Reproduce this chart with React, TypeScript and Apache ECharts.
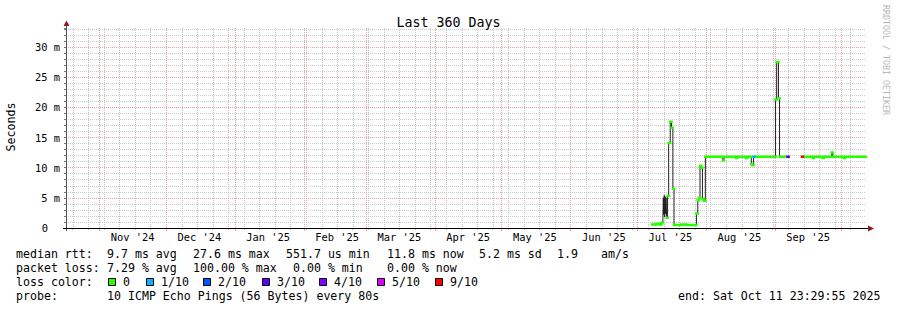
import React, { useEffect, useRef } from 'react';
import * as echarts from 'echarts';

// x values are days since 2024-10-17 00:00 (graph start); the graph spans 360 days
const monthStartDays = [15, 45, 76, 107, 135, 166, 196, 227, 257, 288, 319, 349];
const monthLabelDays = [30, 60, 91, 122, 150, 181, 211, 242, 272, 303, 334];
const monthLabels = ["Nov '24", "Dec '24", "Jan '25", "Feb '25", "Mar '25", "Apr '25", "May '25", "Jun '25", "Jul '25", "Aug '25", "Sep '25"];
const firstWeekDay = 3; // 2024-10-20

const yTickValues = [0, 5, 10, 15, 20, 25, 30];
const yTickLabels = ['0', '5 m', '10 m', '15 m', '20 m', '25 m', '30 m'];

// median rtt (ms), each value holds from its day until the next sample day
const sampleDays = [
  263.7, 265.5, 266.9, 268.0, 268.6, 268.8, 269.0, 269.2, 269.4, 269.6, 269.8, 270.0, 270.3, 270.7,
  271.2, 271.9, 272.5, 273.1, 273.6, 276.7, 279.0, 283.7, 284.3, 284.8, 285.3, 285.9, 286.4, 287.0,
  287.7, 295.6, 296.1, 301.4, 302.0, 306.0, 306.5, 308.4, 308.9, 309.4, 309.9, 319.3, 319.8, 320.6,
  321.1, 324.7, 325.2, 331.2, 331.6, 336.0, 336.5, 340.5, 341.0, 344.6, 345.1, 350.0, 350.5, 359.9,
];
const medianMs: (number | null)[] = [
  0.6, 0.7, 0.6, 0.9, 1.6, 5.0, 2.2, 5.4, 1.8, 5.2, 2.4, 5.0, 1.7, 5.3,
  14.1, 17.6, 16.6, 6.5, 0.5, 0.6, 0.5, 2.4, 4.6, 5.0, 10.3, 10.0, 4.8, 4.5,
  11.8, 11.2, 11.8, 11.6, 11.8, 11.6, 11.8, 10.6, 10.4, 11.8, 11.8, 21.3, 27.5, 21.5,
  11.8, 11.8, null, 11.8, 11.8, 11.6, 11.8, 11.6, 11.8, 12.5, 11.8, 11.6, 11.8, 11.8,
];
const lossTenths = [
  0, 0, 0, 0, 0, 0, 0, 1, 0, 0, 0, 0, 0, 0,
  0, 0, 0, 0, 0, 0, 0, 0, 0, 0, 0, 0, 0, 0,
  0, 0, 0, 0, 0, 0, 0, 0, 0, 1, 0, 0, 0, 0,
  0, 3, 0, 9, 0, 0, 0, 0, 0, 0, 0, 0, 0, 0,
];

const lossLevels = [0, 1, 2, 3, 4, 5, 9];
const lossLabels = ['0', '1/10', '2/10', '3/10', '4/10', '5/10', '9/10'];
const lossColors = ['#26ff00', '#00b8ff', '#0059ff', '#5e00ff', '#7e00ff', '#dd00ff', '#ff0000'];

const rttStats = ['9.7 ms avg', '27.6 ms max', '551.7 us min', '11.8 ms now', '5.2 ms sd', '1.9', 'am/s'];
const lossStats = ['7.29 % avg', '100.00 % max', '0.00 % min', '0.00 % now'];
const probeText = '10 ICMP Echo Pings (56 Bytes) every 80s';
const endText = 'end: Sat Oct 11 23:29:55 2025';
const titleText = 'Last 360 Days';

const MONO = '"DejaVu Sans Mono", monospace';

export default function App() {
  const ref = useRef<HTMLDivElement>(null);
  useEffect(() => {
    if (!ref.current) return;
    document.body.style.margin = '0';
    document.body.style.background = '#ffffff';
    const chart = echarts.init(ref.current, null, { renderer: 'svg' });

    const weekDays: number[] = [];
    for (let d = firstWeekDay; d < 360; d += 7) weekDays.push(d);

    const medianData = sampleDays.map((d, i) => [d, medianMs[i] == null ? '-' : medianMs[i]]);

    const lossSeries = lossLevels.map((lvl, k) => {
      const pts: any[] = [];
      for (let i = 0; i < sampleDays.length - 1; i++) {
        const v = medianMs[i];
        if (v == null || lossTenths[i] !== lvl) continue;
        pts.push([sampleDays[i], v], [sampleDays[i + 1], v], [sampleDays[i + 1], '-']);
      }
      return {
        type: 'line', name: 'loss' + lvl, data: pts, xAxisIndex: 0, yAxisIndex: 0,
        showSymbol: false, symbol: 'none', silent: true, z: 4,
        lineStyle: { color: lossColors[k], width: 2.5, cap: 'square' },
        connectNulls: false,
      };
    }).filter((s) => s.data.length > 0);

    const gray = '#cccccc';
    const vgray = '#c4c4c4';
    const red = '#eea0a0';

    const txt = (x: number, y: number, s: string) => ({
      type: 'text', x, y, silent: true, z: 10,
      style: { text: s, fontFamily: MONO, fontSize: 11.6, fill: '#000', align: 'left', verticalAlign: 'middle' },
    });

    const rttX = [107, 193, 286, 387, 479, 557, 601];
    const lossX = [107, 193, 293, 387];
    const boxX = [108, 146, 203, 262, 319, 377, 435];

    const graphics: any[] = [
      txt(16, 254, 'median rtt:'),
      ...rttStats.map((s, i) => txt(rttX[i], 254, s)),
      txt(16, 268, 'packet loss:'),
      ...lossStats.map((s, i) => txt(lossX[i], 268, s)),
      txt(16, 282, 'loss color:'),
      ...lossLabels.flatMap((s, i) => [
        { type: 'rect', silent: true, z: 10, shape: { x: boxX[i] + 0.5, y: 278.5, width: 7, height: 7 }, style: { fill: lossColors[i], stroke: '#000', lineWidth: 1 } },
        txt(boxX[i] + 15, 282, s),
      ]),
      txt(16, 296, 'probe:'),
      txt(107, 296, probeText),
      txt(678, 296, endText),
      {
        type: 'text', x: 11, y: 127, rotation: Math.PI / 2, silent: true, z: 10,
        style: { text: 'Seconds', fontFamily: MONO, fontSize: 11.6, fill: '#000', align: 'center', verticalAlign: 'middle' },
      },
      {
        type: 'text', x: 886, y: 5, rotation: -Math.PI / 2, silent: true, z: 10,
        style: { text: 'RRDTOOL / TOBI OETIKER', fontFamily: MONO, fontSize: 8.3, fill: '#b8b8b8', align: 'left', verticalAlign: 'middle' },
      },
      { type: 'line', silent: true, z: 9, shape: { x1: 66.5, y1: 231, x2: 66.5, y2: 25 }, style: { stroke: '#555', lineWidth: 1 } },
      { type: 'line', silent: true, z: 9, shape: { x1: 63, y1: 228.5, x2: 869, y2: 228.5 }, style: { stroke: '#000', lineWidth: 1 } },
      { type: 'polygon', silent: true, z: 10, shape: { points: [[66.5, 20.5], [63.5, 26], [69.5, 26]] }, style: { fill: '#8b1c1c' } },
      { type: 'polygon', silent: true, z: 10, shape: { points: [[874, 228.5], [868, 225.5], [868, 231.5]] }, style: { fill: '#8b1c1c' } },
    ];

    const option: any = {
      animation: false,
      backgroundColor: '#ffffff',
      title: {
        text: titleText, left: 'center', top: 11,
        textStyle: { fontFamily: MONO, fontSize: 13.3, fontWeight: 'normal', color: '#000' },
      },
      grid: { left: 66, top: 28, width: 800, height: 200, containLabel: false },
      xAxis: [
        {
          type: 'value', min: 0, max: 360, z: 0,
          axisLine: { show: false },
          splitLine: { show: false },
          axisTick: { show: true, customValues: weekDays, length: 2, lineStyle: { color: '#bbbbbb' } },
          axisLabel: { show: false },
        },
        {
          type: 'value', min: 0, max: 360, position: 'bottom', z: 2,
          axisLine: { show: false },
          splitLine: { show: true, lineStyle: { color: red, type: [1, 1], width: 1 } },
          axisTick: { show: true, customValues: monthStartDays, length: 3, lineStyle: { color: red } },
          axisLabel: { show: false },
        },
        {
          type: 'value', min: 0, max: 360, position: 'bottom', z: 2,
          axisLine: { show: false }, splitLine: { show: false },
          axisTick: { show: false, customValues: monthLabelDays },
          axisLabel: {
            customValues: monthLabelDays,
            formatter: (v: number) => {
              const i = monthLabelDays.indexOf(Math.round(v));
              return i >= 0 ? monthLabels[i] : '';
            },
            fontFamily: MONO, fontSize: 10.4, color: '#000', margin: 4,
          },
        },
      ],
      yAxis: [
        {
          type: 'value', min: 0, max: 33.15, interval: 1, z: 0,
          axisLine: { show: false },
          axisTick: { show: true, length: 2, lineStyle: { color: '#777' } },
          axisLabel: {
            fontFamily: MONO, fontSize: 10.4, color: '#000', margin: 6,
            formatter: (v: number) => {
              if (Math.abs(v - Math.round(v)) > 1e-6) return '';
              const i = yTickValues.indexOf(Math.round(v));
              if (i < 0) return '';
              return i === 0 ? '{z|' + yTickLabels[0] + '}' : yTickLabels[i];
            },
            rich: { z: { fontFamily: MONO, fontSize: 10.4, color: '#000', padding: [0, 12, 0, 0] } },
          },
          splitLine: { show: true, showMaxLine: false, lineStyle: { color: gray, type: [1, 1], width: 1 } },
        },
        {
          type: 'value', min: 0, max: 33.15, interval: 5, position: 'left', z: 2,
          axisLine: { show: false }, axisTick: { show: false }, axisLabel: { show: false },
          splitLine: { show: true, showMaxLine: false, lineStyle: { color: red, type: [1, 1], width: 1 } },
        },
      ],
      series: [
        {
          type: 'custom', name: 'weekGrid', data: weekDays.map((d) => [d, 0]), xAxisIndex: 0, yAxisIndex: 0,
          silent: true, z: 1, clip: false,
          encode: { x: 0, y: 1 },
          renderItem: (params: any, api: any) => {
            const top = api.coord([api.value(0), 33.15]);
            const bottom = api.coord([api.value(0), 0]);
            const x = Math.round(bottom[0]) + 0.5;
            return {
              type: 'line',
              shape: { x1: x, y1: top[1], x2: x, y2: bottom[1] },
              style: { stroke: vgray, lineWidth: 1, lineDash: [1, 1] },
            };
          },
        },
        {
          type: 'line', name: 'median', data: medianData, step: 'end', xAxisIndex: 0, yAxisIndex: 0,
          showSymbol: false, symbol: 'none', silent: true, z: 3, connectNulls: false,
          lineStyle: { color: '#202020', width: 1 },
        },
        ...lossSeries,
      ],
      graphic: graphics,
    };
    chart.setOption(option);
    return () => chart.dispose();
  }, []);
  return <div ref={ref} style={{ position: 'fixed', left: 0, top: 0, width: 897, height: 310 }} />;
}
